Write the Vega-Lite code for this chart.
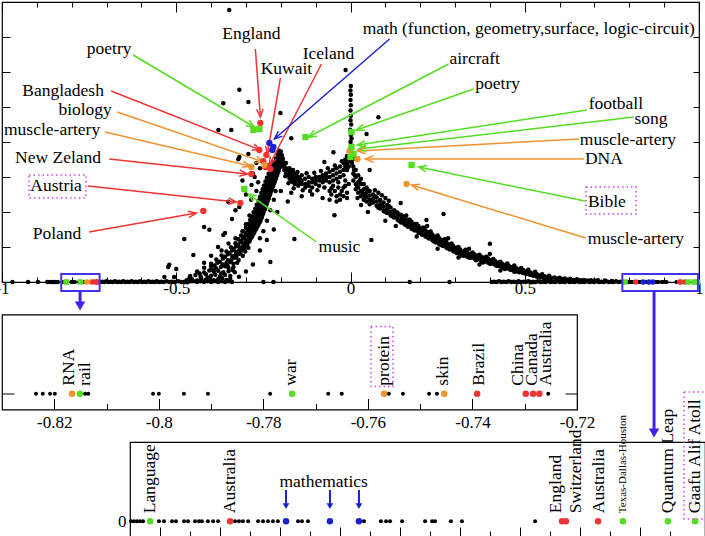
{
  "$schema": "https://vega.github.io/schema/vega-lite/v6.json",
  "padding": {"left": -6, "top": 0, "right": 0, "bottom": 0},
  "bounds": "flush",
  "spacing": 32.5,
  "config": {
    "view": {"stroke": "black", "strokeWidth": 1.2},
    "axis": {"labelFont": "Liberation Serif", "labelFontSize": 17, "labelColor": "black", "tickColor": "black", "tickWidth": 1, "domain": false, "grid": false, "title": null, "labelOverlap": false, "labelFlush": false},
    "text": {"font": "Liberation Serif", "fontSize": 17.5, "color": "black"}
  },
  "datasets": {
    "main": [
      {"x":-0.47,"y":0.05},{"x":-0.455,"y":0.08},{"x":-0.44,"y":0.04},{"x":-0.428,"y":0.09},{"x":-0.416,"y":0.06},{"x":-0.404,"y":0.1},{"x":-0.392,"y":0.05},{"x":-0.38,"y":0.08},{"x":-0.368,"y":0.11},{"x":-0.356,"y":0.06},{"x":-0.345,"y":0.09},
      {"x":-0.46,"y":0.17},{"x":-0.445,"y":0.2},{"x":-0.43,"y":0.15},{"x":-0.415,"y":0.22},{"x":-0.4,"y":0.18},{"x":-0.388,"y":0.21},{"x":-0.375,"y":0.16},{"x":-0.36,"y":0.2},{"x":-0.345,"y":0.17},
      {"x":-0.44,"y":0.3},{"x":-0.42,"y":0.27},{"x":-0.405,"y":0.33},{"x":-0.392,"y":0.29},{"x":-0.38,"y":0.32},{"x":-0.365,"y":0.28},{"x":-0.35,"y":0.31},{"x":-0.338,"y":0.34},
      {"x":-0.42,"y":0.41},{"x":-0.4,"y":0.44},{"x":-0.386,"y":0.39},{"x":-0.372,"y":0.43},{"x":-0.36,"y":0.45},{"x":-0.35,"y":0.4},{"x":-0.336,"y":0.42},
      {"x":-0.4,"y":0.52},{"x":-0.382,"y":0.55},{"x":-0.367,"y":0.5},{"x":-0.356,"y":0.54},{"x":-0.346,"y":0.57},{"x":-0.336,"y":0.52},{"x":-0.325,"y":0.55},
      {"x":-0.385,"y":0.64},{"x":-0.366,"y":0.67},{"x":-0.352,"y":0.62},{"x":-0.341,"y":0.66},{"x":-0.331,"y":0.69},{"x":-0.321,"y":0.63},
      {"x":-0.37,"y":0.76},{"x":-0.352,"y":0.79},{"x":-0.339,"y":0.74},{"x":-0.329,"y":0.78},{"x":-0.319,"y":0.81},{"x":-0.309,"y":0.75},
      {"x":-0.356,"y":0.87},{"x":-0.34,"y":0.9},{"x":-0.329,"y":0.86},{"x":-0.32,"y":0.89},{"x":-0.312,"y":0.92},{"x":-0.302,"y":0.87},
      {"x":-0.343,"y":0.99},{"x":-0.328,"y":1.02},{"x":-0.318,"y":0.97},{"x":-0.31,"y":1.01},{"x":-0.302,"y":1.04},{"x":-0.293,"y":0.98},
      {"x":-0.33,"y":1.11},{"x":-0.316,"y":1.14},{"x":-0.307,"y":1.09},{"x":-0.299,"y":1.13},{"x":-0.29,"y":1.16},
      {"x":-0.322,"y":1.22},{"x":-0.308,"y":1.25},{"x":-0.3,"y":1.2},{"x":-0.292,"y":1.24},{"x":-0.284,"y":1.27},
      {"x":-0.314,"y":1.33},{"x":-0.3,"y":1.36},{"x":-0.293,"y":1.31},{"x":-0.286,"y":1.35},{"x":-0.278,"y":1.38},
      {"x":-0.307,"y":1.44},{"x":-0.294,"y":1.47},{"x":-0.287,"y":1.42},{"x":-0.28,"y":1.46},{"x":-0.272,"y":1.49},
      {"x":-0.3,"y":1.55},{"x":-0.288,"y":1.58},{"x":-0.281,"y":1.53},{"x":-0.274,"y":1.57},{"x":-0.266,"y":1.6},
      {"x":-0.294,"y":1.66},{"x":-0.283,"y":1.69},{"x":-0.276,"y":1.64},{"x":-0.269,"y":1.68},{"x":-0.261,"y":1.71},
      {"x":-0.288,"y":1.77},{"x":-0.278,"y":1.8},{"x":-0.271,"y":1.75},{"x":-0.264,"y":1.79},{"x":-0.256,"y":1.82},
      {"x":-0.283,"y":1.88},{"x":-0.273,"y":1.91},{"x":-0.266,"y":1.86},{"x":-0.26,"y":1.9},{"x":-0.252,"y":1.93},
      {"x":-0.278,"y":1.99},{"x":-0.268,"y":2.02},{"x":-0.262,"y":1.97},{"x":-0.256,"y":2.01},{"x":-0.248,"y":2.04},
      {"x":-0.273,"y":2.1},{"x":-0.264,"y":2.13},{"x":-0.258,"y":2.08},{"x":-0.252,"y":2.12},{"x":-0.244,"y":2.15},
      {"x":-0.269,"y":2.21},{"x":-0.26,"y":2.24},{"x":-0.254,"y":2.19},{"x":-0.248,"y":2.23},{"x":-0.24,"y":2.26},
      {"x":-0.264,"y":2.32},{"x":-0.256,"y":2.35},{"x":-0.25,"y":2.3},{"x":-0.244,"y":2.34},{"x":-0.236,"y":2.37},
      {"x":-0.26,"y":2.43},{"x":-0.252,"y":2.46},{"x":-0.246,"y":2.41},{"x":-0.24,"y":2.45},{"x":-0.232,"y":2.48},
      {"x":-0.256,"y":2.54},{"x":-0.248,"y":2.57},{"x":-0.242,"y":2.52},{"x":-0.236,"y":2.56},{"x":-0.228,"y":2.59},
      {"x":-0.252,"y":2.65},{"x":-0.244,"y":2.68},{"x":-0.238,"y":2.63},{"x":-0.232,"y":2.67},{"x":-0.224,"y":2.7},
      {"x":-0.248,"y":2.76},{"x":-0.24,"y":2.79},{"x":-0.234,"y":2.74},{"x":-0.228,"y":2.78},{"x":-0.22,"y":2.81},
      {"x":-0.244,"y":2.87},{"x":-0.236,"y":2.9},{"x":-0.23,"y":2.85},{"x":-0.224,"y":2.89},{"x":-0.216,"y":2.92},
      {"x":-0.24,"y":2.98},{"x":-0.232,"y":3.01},{"x":-0.226,"y":2.96},{"x":-0.22,"y":3.0},{"x":-0.212,"y":3.03},
      {"x":-0.235,"y":3.09},{"x":-0.227,"y":3.12},{"x":-0.222,"y":3.07},{"x":-0.216,"y":3.11},{"x":-0.208,"y":3.14},
      {"x":-0.23,"y":3.2},{"x":-0.223,"y":3.23},{"x":-0.218,"y":3.18},{"x":-0.212,"y":3.22},{"x":-0.205,"y":3.25},
      {"x":-0.225,"y":3.31},{"x":-0.218,"y":3.34},{"x":-0.213,"y":3.29},{"x":-0.207,"y":3.33},{"x":-0.2,"y":3.36},
      {"x":-0.22,"y":3.42},{"x":-0.213,"y":3.45},{"x":-0.208,"y":3.4},{"x":-0.202,"y":3.44},{"x":-0.196,"y":3.47},
      {"x":-0.214,"y":3.53},{"x":-0.207,"y":3.56},{"x":-0.202,"y":3.51},{"x":-0.197,"y":3.55},
      {"x":-0.209,"y":3.64},{"x":-0.202,"y":3.67},{"x":-0.197,"y":3.62},{"x":-0.2,"y":3.73},{"x":-0.205,"y":3.75},
      {"x":-0.462,"y":0.12},{"x":-0.433,"y":0.24},{"x":-0.41,"y":0.13},{"x":-0.397,"y":0.36},{"x":-0.371,"y":0.24},{"x":-0.353,"y":0.47},{"x":-0.332,"y":0.28},{"x":-0.39,"y":0.47},{"x":-0.375,"y":0.58},{"x":-0.343,"y":0.6},{"x":-0.327,"y":0.74},{"x":-0.36,"y":0.72},{"x":-0.347,"y":0.83},{"x":-0.316,"y":0.85},{"x":-0.335,"y":0.95},{"x":-0.304,"y":0.95},{"x":-0.322,"y":1.06},{"x":-0.296,"y":1.08},{"x":-0.313,"y":1.18},{"x":-0.288,"y":1.21},{"x":-0.305,"y":1.29},{"x":-0.282,"y":1.31},{"x":-0.297,"y":1.4},{"x":-0.276,"y":1.42},{"x":-0.29,"y":1.51},{"x":-0.27,"y":1.53},{"x":-0.284,"y":1.62},{"x":-0.264,"y":1.64},{"x":-0.279,"y":1.73},{"x":-0.258,"y":1.75},{"x":-0.274,"y":1.84},{"x":-0.254,"y":1.86},{"x":-0.269,"y":1.95},{"x":-0.25,"y":1.97},{"x":-0.265,"y":2.06},{"x":-0.246,"y":2.08},{"x":-0.26,"y":2.17},{"x":-0.242,"y":2.19},{"x":-0.257,"y":2.28},{"x":-0.238,"y":2.3},{"x":-0.253,"y":2.39},{"x":-0.234,"y":2.41},{"x":-0.249,"y":2.5},{"x":-0.23,"y":2.52},{"x":-0.245,"y":2.61},{"x":-0.226,"y":2.63},{"x":-0.241,"y":2.72},{"x":-0.222,"y":2.74},{"x":-0.237,"y":2.83},{"x":-0.218,"y":2.85},{"x":-0.233,"y":2.94},{"x":-0.214,"y":2.96},{"x":-0.229,"y":3.05},{"x":-0.21,"y":3.07},{"x":-0.224,"y":3.16},{"x":-0.206,"y":3.18},{"x":-0.219,"y":3.27},{"x":-0.203,"y":3.29},{"x":-0.215,"y":3.38},{"x":-0.199,"y":3.4},{"x":-0.21,"y":3.49},{"x":-0.194,"y":3.52},
      {"x":-0.29,"y":1.9},{"x":-0.3,"y":1.65},{"x":-0.31,"y":1.45},{"x":-0.33,"y":1.25},{"x":-0.35,"y":1.1},{"x":-0.37,"y":0.9},{"x":-0.4,"y":0.75},{"x":-0.42,"y":0.55},{"x":-0.24,"y":1.75},{"x":-0.23,"y":2.05},{"x":-0.22,"y":2.35},{"x":-0.25,"y":1.45},{"x":-0.26,"y":1.25},{"x":-0.27,"y":2.6},{"x":-0.265,"y":2.85},{"x":-0.275,"y":3.0},{"x":-0.285,"y":2.35},{"x":-0.215,"y":2.6},
      {"x":-0.38,"y":1.0},{"x":-0.36,"y":1.4},{"x":-0.34,"y":1.8},{"x":-0.33,"y":2.05},{"x":-0.3,"y":2.5},{"x":-0.31,"y":2.9},{"x":-0.28,"y":3.1},{"x":-0.26,"y":3.25},{"x":-0.2,"y":2.6},{"x":-0.18,"y":2.3},{"x":-0.21,"y":2.0},{"x":-0.22,"y":1.5},{"x":-0.24,"y":1.2},{"x":-0.26,"y":0.9},{"x":-0.28,"y":0.5},{"x":-0.3,"y":0.3},{"x":-0.32,"y":0.15},
      {"x":-0.195,"y":3.45},{"x":-0.195,"y":3.3},{"x":-0.19,"y":3.35},{"x":-0.19,"y":3.2},{"x":-0.185,"y":3.25},{"x":-0.185,"y":3.1},{"x":-0.185,"y":3.4},{"x":-0.18,"y":3.2},{"x":-0.18,"y":3.05},{"x":-0.175,"y":3.1},{"x":-0.175,"y":3.25},{"x":-0.175,"y":2.95},{"x":-0.17,"y":3.05},{"x":-0.17,"y":3.15},{"x":-0.17,"y":2.9},{"x":-0.165,"y":3.0},{"x":-0.165,"y":2.85},{"x":-0.165,"y":3.2},{"x":-0.16,"y":2.95},{"x":-0.16,"y":3.1},{"x":-0.16,"y":2.8},{"x":-0.155,"y":2.9},{"x":-0.155,"y":3.05},{"x":-0.15,"y":2.85},{"x":-0.15,"y":3.0},{"x":-0.15,"y":2.75},{"x":-0.145,"y":2.85},{"x":-0.145,"y":2.95},{"x":-0.14,"y":2.8},{"x":-0.14,"y":2.9},{"x":-0.14,"y":3.05},{"x":-0.13,"y":2.8},{"x":-0.13,"y":2.95},{"x":-0.13,"y":2.7},{"x":-0.12,"y":2.85},{"x":-0.12,"y":2.75},{"x":-0.12,"y":3.0},{"x":-0.11,"y":2.85},{"x":-0.11,"y":2.95},{"x":-0.11,"y":2.7},{"x":-0.1,"y":2.9},{"x":-0.1,"y":2.8},{"x":-0.1,"y":3.0},{"x":-0.09,"y":2.9},{"x":-0.09,"y":3.0},{"x":-0.09,"y":2.75},{"x":-0.08,"y":2.95},{"x":-0.08,"y":3.05},{"x":-0.08,"y":2.85},{"x":-0.07,"y":3.0},{"x":-0.07,"y":3.1},{"x":-0.07,"y":2.9},{"x":-0.06,"y":3.0},{"x":-0.06,"y":3.15},{"x":-0.06,"y":2.85},{"x":-0.05,"y":3.05},{"x":-0.05,"y":3.2},{"x":-0.05,"y":2.9},{"x":-0.04,"y":3.1},{"x":-0.04,"y":3.25},{"x":-0.04,"y":2.95},{"x":-0.03,"y":3.15},{"x":-0.03,"y":3.3},{"x":-0.03,"y":3.0},{"x":-0.02,"y":3.2},{"x":-0.02,"y":3.4},{"x":-0.02,"y":3.05},{"x":-0.015,"y":3.3},{"x":-0.015,"y":3.5},{"x":-0.01,"y":3.4},{"x":-0.01,"y":3.6},{"x":-0.01,"y":3.2},{"x":-0.005,"y":3.5},{"x":-0.005,"y":3.3},
      {"x":-0.187,"y":3.02},{"x":-0.178,"y":2.82},{"x":-0.163,"y":2.68},{"x":-0.152,"y":3.14},{"x":-0.137,"y":2.62},{"x":-0.126,"y":3.11},{"x":-0.116,"y":2.6},{"x":-0.104,"y":3.12},{"x":-0.095,"y":2.62},{"x":-0.085,"y":3.17},{"x":-0.075,"y":2.7},{"x":-0.065,"y":3.25},{"x":-0.055,"y":2.68},{"x":-0.045,"y":3.33},{"x":-0.035,"y":2.85},{"x":-0.025,"y":3.45},
      {"x":-0.17,"y":2.55},{"x":-0.14,"y":2.45},{"x":-0.11,"y":2.5},{"x":-0.08,"y":2.4},{"x":-0.06,"y":2.6},{"x":-0.03,"y":2.5},{"x":-0.02,"y":2.7},{"x":-0.04,"y":2.3},{"x":-0.015,"y":2.9},{"x":-0.01,"y":2.4},{"x":-0.05,"y":2.75},{"x":-0.045,"y":2.6},{"x":-0.04,"y":2.45},{"x":-0.035,"y":2.7},{"x":-0.03,"y":2.35},{"x":-0.025,"y":2.6},{"x":-0.02,"y":2.45},{"x":-0.015,"y":2.75},{"x":-0.01,"y":2.55},{"x":-0.005,"y":2.8},{"x":-0.055,"y":2.5},{"x":-0.06,"y":2.35},
      {"x":0.001,"y":3.6},{"x":0.003,"y":3.7},{"x":-0.001,"y":3.8},{"x":0.002,"y":3.9},{"x":0.0,"y":4.0},{"x":0.003,"y":4.1},{"x":0.001,"y":4.2},{"x":-0.001,"y":4.35},{"x":0.002,"y":4.5},{"x":0.0,"y":4.62},{"x":0.001,"y":4.75},{"x":0.0,"y":4.9},{"x":0.001,"y":5.05},{"x":0.0,"y":5.2},{"x":0.001,"y":5.35},{"x":0.0,"y":5.47},{"x":0.001,"y":5.6},{"x":0.004,"y":3.4},{"x":0.006,"y":3.5},{"x":-0.004,"y":3.45},{"x":0.008,"y":3.6},{"x":-0.006,"y":3.3},{"x":0.01,"y":3.2},
      {"x":0.008,"y":3.3},{"x":0.008,"y":3.1},{"x":0.008,"y":2.9},{"x":0.015,"y":3.2},{"x":0.015,"y":3.0},{"x":0.015,"y":2.8},{"x":0.015,"y":2.65},{"x":0.022,"y":3.05},{"x":0.022,"y":2.85},{"x":0.022,"y":2.7},{"x":0.022,"y":2.55},{"x":0.03,"y":2.95},{"x":0.03,"y":2.8},{"x":0.03,"y":2.6},{"x":0.03,"y":2.45},{"x":0.038,"y":2.8},{"x":0.038,"y":2.65},{"x":0.038,"y":2.5},{"x":0.038,"y":2.35},{"x":0.046,"y":2.7},{"x":0.046,"y":2.55},{"x":0.046,"y":2.42},{"x":0.046,"y":2.3},{"x":0.055,"y":2.6},{"x":0.055,"y":2.47},{"x":0.055,"y":2.35},{"x":0.055,"y":2.22},
      {"x":0.065,"y":2.5},{"x":0.065,"y":2.38},{"x":0.065,"y":2.27},{"x":0.075,"y":2.42},{"x":0.075,"y":2.3},{"x":0.075,"y":2.18},{"x":0.085,"y":2.34},{"x":0.085,"y":2.22},{"x":0.085,"y":2.1},{"x":0.095,"y":2.27},{"x":0.095,"y":2.15},{"x":0.095,"y":2.03},{"x":0.105,"y":2.2},{"x":0.105,"y":2.08},{"x":0.105,"y":1.97},{"x":0.115,"y":2.13},{"x":0.115,"y":2.01},{"x":0.115,"y":1.9},{"x":0.125,"y":2.05},{"x":0.125,"y":1.95},{"x":0.125,"y":1.84},{"x":0.135,"y":1.98},{"x":0.135,"y":1.88},{"x":0.135,"y":1.78},{"x":0.145,"y":1.92},{"x":0.145,"y":1.8},{"x":0.145,"y":1.7},{"x":0.155,"y":1.85},{"x":0.155,"y":1.74},{"x":0.155,"y":1.65},{"x":0.165,"y":1.78},{"x":0.165,"y":1.68},{"x":0.165,"y":1.58},{"x":0.175,"y":1.72},{"x":0.175,"y":1.62},{"x":0.175,"y":1.52},{"x":0.185,"y":1.66},{"x":0.185,"y":1.56},{"x":0.185,"y":1.47},{"x":0.195,"y":1.6},{"x":0.195,"y":1.5},{"x":0.195,"y":1.41},
      {"x":0.205,"y":1.54},{"x":0.205,"y":1.44},{"x":0.205,"y":1.35},{"x":0.215,"y":1.48},{"x":0.215,"y":1.38},{"x":0.215,"y":1.3},{"x":0.225,"y":1.42},{"x":0.225,"y":1.33},{"x":0.225,"y":1.24},{"x":0.235,"y":1.36},{"x":0.235,"y":1.27},{"x":0.235,"y":1.19},{"x":0.245,"y":1.3},{"x":0.245,"y":1.22},{"x":0.245,"y":1.13},{"x":0.255,"y":1.25},{"x":0.255,"y":1.16},{"x":0.255,"y":1.08},{"x":0.265,"y":1.19},{"x":0.265,"y":1.1},{"x":0.265,"y":1.03},{"x":0.275,"y":1.14},{"x":0.275,"y":1.05},{"x":0.275,"y":0.98},{"x":0.285,"y":1.08},{"x":0.285,"y":1.0},{"x":0.285,"y":0.93},{"x":0.295,"y":1.03},{"x":0.295,"y":0.95},{"x":0.295,"y":0.88},{"x":0.305,"y":0.98},{"x":0.305,"y":0.9},{"x":0.305,"y":0.83},{"x":0.315,"y":0.93},{"x":0.315,"y":0.86},{"x":0.315,"y":0.79},{"x":0.325,"y":0.88},{"x":0.325,"y":0.81},{"x":0.325,"y":0.75},{"x":0.335,"y":0.84},{"x":0.335,"y":0.78},{"x":0.335,"y":0.72},{"x":0.345,"y":0.81},{"x":0.345,"y":0.75},{"x":0.345,"y":0.69},{"x":0.355,"y":0.79},{"x":0.355,"y":0.73},{"x":0.355,"y":0.67},
      {"x":0.365,"y":0.76},{"x":0.365,"y":0.7},{"x":0.365,"y":0.64},{"x":0.375,"y":0.73},{"x":0.375,"y":0.67},{"x":0.375,"y":0.61},{"x":0.385,"y":0.7},{"x":0.385,"y":0.64},{"x":0.385,"y":0.58},{"x":0.395,"y":0.67},{"x":0.395,"y":0.61},{"x":0.395,"y":0.55},{"x":0.405,"y":0.63},{"x":0.405,"y":0.58},{"x":0.405,"y":0.52},{"x":0.415,"y":0.6},{"x":0.415,"y":0.54},{"x":0.415,"y":0.49},{"x":0.425,"y":0.56},{"x":0.425,"y":0.51},{"x":0.425,"y":0.46},{"x":0.435,"y":0.52},{"x":0.435,"y":0.48},{"x":0.435,"y":0.43},{"x":0.445,"y":0.49},{"x":0.445,"y":0.45},{"x":0.445,"y":0.4},{"x":0.455,"y":0.46},{"x":0.455,"y":0.42},{"x":0.455,"y":0.37},{"x":0.465,"y":0.43},{"x":0.465,"y":0.39},{"x":0.465,"y":0.34},{"x":0.475,"y":0.4},{"x":0.475,"y":0.36},{"x":0.475,"y":0.31},{"x":0.485,"y":0.37},{"x":0.485,"y":0.33},{"x":0.485,"y":0.28},{"x":0.495,"y":0.34},{"x":0.495,"y":0.3},{"x":0.495,"y":0.26},{"x":0.505,"y":0.31},{"x":0.505,"y":0.27},{"x":0.505,"y":0.23},{"x":0.515,"y":0.28},{"x":0.515,"y":0.24},{"x":0.515,"y":0.21},{"x":0.525,"y":0.25},{"x":0.525,"y":0.21},{"x":0.525,"y":0.18},{"x":0.535,"y":0.22},{"x":0.535,"y":0.18},{"x":0.535,"y":0.15},{"x":0.545,"y":0.19},{"x":0.545,"y":0.16},{"x":0.545,"y":0.13},{"x":0.555,"y":0.17},{"x":0.555,"y":0.14},{"x":0.555,"y":0.11},{"x":0.565,"y":0.15},{"x":0.565,"y":0.12},{"x":0.565,"y":0.1},{"x":0.575,"y":0.12},{"x":0.575,"y":0.1},{"x":0.59,"y":0.1},{"x":0.59,"y":0.08},{"x":0.605,"y":0.09},{"x":0.605,"y":0.07},{"x":0.62,"y":0.07},{"x":0.62,"y":0.06},{"x":0.64,"y":0.06},{"x":0.66,"y":0.05},{"x":0.68,"y":0.04},{"x":0.7,"y":0.04},
      {"x":0.012,"y":3.05},{"x":0.018,"y":2.75},{"x":0.026,"y":2.9},{"x":0.034,"y":2.55},{"x":0.042,"y":2.45},{"x":0.05,"y":2.62},{"x":0.06,"y":2.3},{"x":0.07,"y":2.45},{"x":0.08,"y":2.12},{"x":0.09,"y":2.2},{"x":0.1,"y":2.0},{"x":0.11,"y":2.17},{"x":0.12,"y":1.88},{"x":0.13,"y":2.01},{"x":0.14,"y":1.74},{"x":0.15,"y":1.88},{"x":0.16,"y":1.62},{"x":0.17,"y":1.78},{"x":0.18,"y":1.5},{"x":0.19,"y":1.66},{"x":0.2,"y":1.4},{"x":0.21,"y":1.56},{"x":0.22,"y":1.28},{"x":0.23,"y":1.44},{"x":0.24,"y":1.16},{"x":0.25,"y":1.33},{"x":0.26,"y":1.06},{"x":0.27,"y":1.22},{"x":0.28,"y":0.96},{"x":0.29,"y":1.1},{"x":0.3,"y":0.87},{"x":0.31,"y":1.0},{"x":0.32,"y":0.76},{"x":0.33,"y":0.92},{"x":0.34,"y":0.7},{"x":0.35,"y":0.84},{"x":0.36,"y":0.62},{"x":0.37,"y":0.78},{"x":0.38,"y":0.56},{"x":0.39,"y":0.72},{"x":0.4,"y":0.52},{"x":0.41,"y":0.66},{"x":0.42,"y":0.46},{"x":0.43,"y":0.58},{"x":0.44,"y":0.4},{"x":0.45,"y":0.53},{"x":0.46,"y":0.34},{"x":0.47,"y":0.47},{"x":0.48,"y":0.3},{"x":0.49,"y":0.4},{"x":0.5,"y":0.25},{"x":0.51,"y":0.35},{"x":0.52,"y":0.2},{"x":0.53,"y":0.29},{"x":0.54,"y":0.16},{"x":0.55,"y":0.22},{"x":0.56,"y":0.14},{"x":0.57,"y":0.18},{"x":0.585,"y":0.13},{"x":0.6,"y":0.12},{"x":0.615,"y":0.1},{"x":0.63,"y":0.09},{"x":0.65,"y":0.08},{"x":0.67,"y":0.06},{"x":0.69,"y":0.05},{"x":0.71,"y":0.05},{"x":0.73,"y":0.04},{"x":0.75,"y":0.03},
      {"x":0.1,"y":1.75},{"x":0.13,"y":1.6},{"x":0.16,"y":1.9},{"x":0.19,"y":1.3},{"x":0.22,"y":1.6},{"x":0.25,"y":0.95},{"x":0.28,"y":1.25},{"x":0.31,"y":0.7},{"x":0.34,"y":0.95},{"x":0.37,"y":0.5},{"x":0.4,"y":0.8},{"x":0.43,"y":0.33},{"x":0.05,"y":2.0},{"x":0.03,"y":2.2},{"x":0.02,"y":2.4},
      {"x":0.07,"y":2.62},{"x":0.08,"y":2.55},{"x":0.09,"y":2.48},{"x":0.1,"y":2.4},{"x":0.11,"y":2.32},
      {"x":-0.348,"y":7.77},{"x":-0.014,"y":6.06},{"x":-0.319,"y":5.49},{"x":-0.365,"y":5.11},{"x":-0.293,"y":5.14},{"x":-0.201,"y":4.83},{"x":-0.379,"y":4.34},{"x":-0.342,"y":4.34},{"x":-0.17,"y":4.11},{"x":-0.322,"y":3.51},{"x":-0.293,"y":3.66},{"x":-0.319,"y":3.57},{"x":-0.27,"y":3.4},{"x":-0.284,"y":2.77},{"x":-0.319,"y":2.14},{"x":-0.351,"y":2.29},{"x":-0.42,"y":1.57},{"x":-0.405,"y":1.49},{"x":-0.365,"y":1.34},{"x":-0.477,"y":1.23},{"x":-0.451,"y":0.77},{"x":-0.523,"y":0.43},{"x":-0.5,"y":0.37},{"x":-0.161,"y":1.23},{"x":-0.046,"y":1.91},{"x":-0.049,"y":3.71},{"x":-0.075,"y":3.43},{"x":0.08,"y":4.71},{"x":0.046,"y":4.23},{"x":0.055,"y":3.2},{"x":0.144,"y":2.26},{"x":0.218,"y":1.77},{"x":0.267,"y":1.94},{"x":0.06,"y":1.2},{"x":0.4,"y":1.09},{"x":0.443,"y":0.37},{"x":0.47,"y":0.29},{"x":-0.52,"y":0.49},{"x":-0.534,"y":0.14},{"x":-0.506,"y":0.14},{"x":-0.23,"y":0.57},{"x":-0.25,"y":0},{"x":-0.221,"y":0},{"x":0.17,"y":0},{"x":0.284,"y":0},
      {"x":-0.97,"y":0},{"x":-0.925,"y":0},{"x":-0.897,"y":0},{"x":-0.87,"y":0},{"x":-0.862,"y":0},{"x":-0.855,"y":0},{"x":-0.848,"y":0},{"x":-0.84,"y":0},
      {"x":-0.718,"y":0},{"x":-0.712,"y":0.01},{"x":-0.706,"y":0},{"x":-0.7,"y":0.02},{"x":-0.694,"y":0},{"x":-0.688,"y":0.01},{"x":-0.682,"y":0},{"x":-0.676,"y":0.02},{"x":-0.67,"y":0},{"x":-0.664,"y":0.01},{"x":-0.658,"y":0},{"x":-0.652,"y":0.02},{"x":-0.646,"y":0},{"x":-0.64,"y":0.01},{"x":-0.634,"y":0},{"x":-0.628,"y":0.02},{"x":-0.622,"y":0},{"x":-0.616,"y":0.01},{"x":-0.61,"y":0},{"x":-0.604,"y":0.02},{"x":-0.598,"y":0},{"x":-0.592,"y":0.01},{"x":-0.586,"y":0},{"x":-0.58,"y":0.02},{"x":-0.574,"y":0},{"x":-0.568,"y":0.01},{"x":-0.562,"y":0},{"x":-0.556,"y":0.02},{"x":-0.55,"y":0},{"x":-0.543,"y":0.01},{"x":-0.536,"y":0},{"x":-0.528,"y":0.02},{"x":-0.52,"y":0},{"x":-0.512,"y":0.01},{"x":-0.503,"y":0},{"x":-0.494,"y":0.02},{"x":-0.485,"y":0},{"x":-0.476,"y":0.01},{"x":-0.467,"y":0},{"x":-0.458,"y":0.02},
      {"x":-0.45,"y":0.02},{"x":-0.44,"y":0},{"x":-0.43,"y":0.02},{"x":-0.42,"y":0},{"x":-0.41,"y":0.02},{"x":-0.4,"y":0},{"x":-0.39,"y":0.02},{"x":-0.38,"y":0},{"x":-0.37,"y":0.02},{"x":-0.36,"y":0},{"x":-0.35,"y":0.02},{"x":-0.34,"y":0},
      {"x":0.405,"y":0},{"x":0.412,"y":0.01},{"x":0.419,"y":0},{"x":0.426,"y":0.02},{"x":0.433,"y":0},{"x":0.44,"y":0.01},{"x":0.447,"y":0},{"x":0.454,"y":0.02},{"x":0.461,"y":0},{"x":0.468,"y":0.01},{"x":0.475,"y":0},{"x":0.482,"y":0.02},{"x":0.489,"y":0},{"x":0.496,"y":0.01},{"x":0.503,"y":0},{"x":0.51,"y":0.02},{"x":0.517,"y":0},{"x":0.524,"y":0.01},{"x":0.531,"y":0},{"x":0.538,"y":0.02},{"x":0.545,"y":0},{"x":0.552,"y":0.01},{"x":0.559,"y":0},{"x":0.566,"y":0.02},{"x":0.573,"y":0},{"x":0.58,"y":0.01},{"x":0.587,"y":0},{"x":0.594,"y":0.02},{"x":0.601,"y":0},{"x":0.608,"y":0.01},{"x":0.615,"y":0},{"x":0.622,"y":0.02},{"x":0.629,"y":0},{"x":0.636,"y":0.01},{"x":0.643,"y":0},{"x":0.65,"y":0.02},{"x":0.657,"y":0},{"x":0.664,"y":0.01},{"x":0.671,"y":0},{"x":0.678,"y":0.02},{"x":0.685,"y":0},{"x":0.692,"y":0.01},{"x":0.699,"y":0},{"x":0.706,"y":0.02},{"x":0.713,"y":0},{"x":0.72,"y":0.01},{"x":0.727,"y":0},{"x":0.734,"y":0.02},{"x":0.741,"y":0},{"x":0.748,"y":0.01},{"x":0.755,"y":0},{"x":0.762,"y":0.02},{"x":0.769,"y":0},{"x":0.776,"y":0.01}
    ],
    "zoom": [
      {"x":-0.8235,"cat":"black"},{"x":-0.8222,"cat":"black"},{"x":-0.8208,"cat":"black"},{"x":-0.8199,"cat":"black"},{"x":-0.8166,"cat":"orange"},{"x":-0.8151,"cat":"green"},{"x":-0.8141,"cat":"black"},{"x":-0.8135,"cat":"black"},{"x":-0.8011,"cat":"black"},{"x":-0.8,"cat":"black"},{"x":-0.7952,"cat":"black"},{"x":-0.7906,"cat":"black"},{"x":-0.7787,"cat":"black"},{"x":-0.7745,"cat":"green"},{"x":-0.7676,"cat":"black"},{"x":-0.765,"cat":"black"},{"x":-0.7569,"cat":"orange"},{"x":-0.756,"cat":"black"},{"x":-0.7533,"cat":"black"},{"x":-0.7483,"cat":"black"},{"x":-0.7468,"cat":"black"},{"x":-0.7454,"cat":"orange"},{"x":-0.7391,"cat":"red"},{"x":-0.7298,"cat":"red"},{"x":-0.7284,"cat":"red"},{"x":-0.7272,"cat":"red"},{"x":-0.7255,"cat":"black"},
      {"x":0.7804,"cat":"black"},{"x":0.7815,"cat":"black"},{"x":0.7827,"cat":"black"},{"x":0.7838,"cat":"black"},{"x":0.785,"cat":"black"},{"x":0.7911,"cat":"black"},{"x":0.793,"cat":"black"},{"x":0.7961,"cat":"black"},{"x":0.7976,"cat":"black"},{"x":0.8007,"cat":"black"},{"x":0.8022,"cat":"black"},{"x":0.8049,"cat":"black"},{"x":0.8064,"cat":"black"},{"x":0.8075,"cat":"black"},{"x":0.8098,"cat":"black"},{"x":0.8118,"cat":"black"},{"x":0.8137,"cat":"black"},{"x":0.8202,"cat":"black"},{"x":0.8217,"cat":"black"},{"x":0.8232,"cat":"black"},{"x":0.8252,"cat":"black"},{"x":0.829,"cat":"black"},{"x":0.8309,"cat":"black"},{"x":0.8328,"cat":"black"},{"x":0.8347,"cat":"black"},{"x":0.8366,"cat":"black"},{"x":0.8443,"cat":"black"},{"x":0.8458,"cat":"black"},{"x":0.8481,"cat":"black"},{"x":0.8695,"cat":"black"},{"x":0.876,"cat":"black"},{"x":0.878,"cat":"black"},{"x":0.8795,"cat":"black"},{"x":0.8841,"cat":"black"},{"x":0.8929,"cat":"black"},{"x":0.8956,"cat":"black"},{"x":0.8967,"cat":"black"},{"x":0.9028,"cat":"black"},{"x":0.907,"cat":"black"},{"x":0.935,"cat":"black"},
      {"x":0.7877,"cat":"green"},{"x":0.8183,"cat":"red"},{"x":0.8397,"cat":"blue"},{"x":0.8565,"cat":"blue"},{"x":0.8676,"cat":"blue"},{"x":0.9453,"cat":"red"},{"x":0.9468,"cat":"red"},{"x":0.9591,"cat":"red"},{"x":0.9686,"cat":"green"},{"x":0.9858,"cat":"green"},{"x":0.9962,"cat":"green"}
    ],
    "zlab": [
      {"label":"RNA","lx":-0.8172},{"label":"rail","lx":-0.8141},{"label":"war","lx":-0.7747},{"label":"protein","lx":-0.7569},{"label":"skin","lx":-0.7456},{"label":"Brazil","lx":-0.7387},{"label":"China","lx":-0.7313},{"label":"Canada","lx":-0.7286},{"label":"Australia","lx":-0.7259},
      {"label":"Language","lx":0.7875},{"label":"Australia","lx":0.8182},{"label":"England","lx":0.9431},{"label":"Switzerland","lx":0.9508},{"label":"Australia","lx":0.9593},{"label":"Texas-Dallas-Houston","lx":0.9686},{"label":"Quantum Leap","lx":0.9857},{"label":"Gaafu Alif Atoll","lx":0.996}
    ],
    "hl": [
      {"x":-0.2586,"y":4.543,"cat":"red"},{"x":-0.2615,"y":3.771,"cat":"red"},{"x":-0.2414,"y":3.629,"cat":"red"},{"x":-0.2356,"y":3.314,"cat":"red"},{"x":-0.2443,"y":3.286,"cat":"red"},{"x":-0.23,"y":3.229,"cat":"red"},{"x":-0.2845,"y":3.086,"cat":"red"},{"x":-0.3161,"y":2.257,"cat":"red"},{"x":-0.4224,"y":2.029,"cat":"red"},{"x":-0.25,"y":3.45,"cat":"red"},
      {"x":-0.2471,"y":3.343,"cat":"orange"},{"x":-0.2845,"y":3.286,"cat":"orange"},{"x":-0.0029,"y":3.743,"cat":"orange"},{"x":0.0201,"y":3.514,"cat":"orange"},{"x":0.1609,"y":2.8,"cat":"orange"},
      {"x":-0.2213,"y":3.857,"cat":"blue"},{"x":-0.2328,"y":3.971,"cat":"blue"},{"x":-0.2241,"y":3.771,"cat":"blue"},
      {"x":-0.2787,"y":4.343,"cat":"green"},{"x":-0.2615,"y":4.371,"cat":"green"},{"x":-0.3046,"y":2.657,"cat":"green"},{"x":-0.1293,"y":4.143,"cat":"green"},{"x":0.0029,"y":4.286,"cat":"green"},{"x":0.0029,"y":3.857,"cat":"green"},{"x":0.0086,"y":3.657,"cat":"green"},{"x":0.0,"y":3.571,"cat":"green"},{"x":0.1753,"y":3.343,"cat":"green"}
    ],
    "ann": [
      {"label":"England","tx":-0.2845,"ty":7.086,"x1":-0.273,"y1":6.657,"x2":-0.2586,"y2":4.714,"cat":"red"},
      {"label":"poetry","tx":-0.6925,"ty":6.657,"x1":-0.6236,"y1":6.486,"x2":-0.2759,"y2":4.429,"cat":"green"},
      {"label":"Kuwait","tx":-0.1839,"ty":6.086,"x1":-0.2011,"y1":5.829,"x2":-0.2385,"y2":3.657,"cat":"red"},
      {"label":"Iceland","tx":-0.0632,"ty":6.514,"x1":-0.0833,"y1":6.229,"x2":-0.2328,"y2":3.343,"cat":"red"},
      {"label":"math (function, geometry,surface, logic-circuit)","tx":0.5115,"ty":7.229,"x1":0.1121,"y1":6.943,"x2":-0.2184,"y2":4.086,"cat":"blue"},
      {"label":"Bangladesh","tx":-0.8247,"ty":5.457,"x1":-0.6868,"y1":5.457,"x2":-0.2586,"y2":3.771,"cat":"red"},
      {"label":"biology","tx":-0.7615,"ty":4.914,"x1":-0.6695,"y1":4.857,"x2":-0.25,"y2":3.429,"cat":"orange"},
      {"label":"muscle-artery","tx":-0.8563,"ty":4.343,"x1":-0.704,"y1":4.286,"x2":-0.2874,"y2":3.314,"cat":"orange"},
      {"label":"New Zeland","tx":-0.8391,"ty":3.543,"x1":-0.6925,"y1":3.514,"x2":-0.296,"y2":3.086,"cat":"red"},
      {"label":"Austria","tx":-0.8448,"ty":2.743,"x1":-0.7529,"y1":2.743,"x2":-0.3276,"y2":2.286,"cat":"red"},
      {"label":"Poland","tx":-0.842,"ty":1.371,"x1":-0.75,"y1":1.429,"x2":-0.4425,"y2":1.971,"cat":"red"},
      {"label":"music","tx":-0.0316,"ty":1.0,"x1":-0.0977,"y1":1.143,"x2":-0.2931,"y2":2.514,"cat":"green"},
      {"label":"aircraft","tx":0.3563,"ty":6.371,"x1":0.2816,"y1":6.229,"x2":-0.1207,"y2":4.143,"cat":"green"},
      {"label":"poetry","tx":0.4224,"ty":5.657,"x1":0.3534,"y1":5.514,"x2":0.0172,"y2":4.343,"cat":"green"},
      {"label":"football","tx":0.7615,"ty":5.086,"x1":0.6782,"y1":4.914,"x2":0.0201,"y2":3.914,"cat":"green"},
      {"label":"song","tx":0.8621,"ty":4.657,"x1":0.8132,"y1":4.714,"x2":0.023,"y2":3.8,"cat":"green"},
      {"label":"muscle-artery","tx":0.796,"ty":4.057,"x1":0.6552,"y1":4.086,"x2":0.0201,"y2":3.743,"cat":"orange"},
      {"label":"DNA","tx":0.727,"ty":3.514,"x1":0.6695,"y1":3.514,"x2":0.0431,"y2":3.514,"cat":"orange"},
      {"label":"Bible","tx":0.7356,"ty":2.286,"x1":0.6724,"y1":2.314,"x2":0.1954,"y2":3.286,"cat":"green"},
      {"label":"muscle-artery","tx":0.819,"ty":1.229,"x1":0.6753,"y1":1.257,"x2":0.1753,"y2":2.771,"cat":"orange"}
    ],
    "dbox": [
      {"panel":"top","x":-0.9225,"x2":-0.759,"y":3.057,"y2":2.4},
      {"panel":"top","x":0.6758,"x2":0.8192,"y":2.714,"y2":1.943},
      {"panel":"mid","x":-0.7594,"x2":-0.7552,"y":0.455,"y2":4.25},
      {"panel":"bot","x":0.992,"x2":1.01,"y":0.14,"y2":8.16}
    ],
    "zbox": [
      {"x":-0.83,"x2":-0.72,"y":-0.26,"y2":0.23},
      {"x":0.78,"x2":0.997,"y":-0.26,"y2":0.23}
    ],
    "bigarr": [
      {"x":-0.776,"y":-0.26,"y2":-0.686},
      {"x":0.871,"y":-0.26,"y2":-4.314}
    ],
    "marr": [
      {"x":0.8397,"y":1.97,"y2":0.95},
      {"x":0.8565,"y":1.97,"y2":0.95},
      {"x":0.8676,"y":1.97,"y2":0.95}
    ],
    "mtext": [{"label":"mathematics","x":0.8541,"y":2.48}]
  },
  "vconcat": [
    {
      "width": 697,
      "height": 280,
      "resolve": {"axis": {"x": "independent", "y": "independent"}},
      "layer": [
        {
          "data": {"name": "main"},
          "mark": {"type": "circle", "size": 20, "color": "black", "opacity": 1},
          "encoding": {
            "x": {"field": "x", "type": "quantitative", "scale": {"domain": [-1, 1], "nice": false, "zero": false},
              "axis": {"orient": "bottom", "values": [-1,-0.9,-0.8,-0.7,-0.6,-0.5,-0.4,-0.3,-0.2,-0.1,0,0.1,0.2,0.3,0.4,0.5,0.6,0.7,0.8,0.9,1],
                "labelExpr": "abs(datum.value*2-round(datum.value*2))<0.001 ? ''+datum.value : ''",
                "tickSize": {"condition": {"test": "abs(datum.value*2-round(datum.value*2))<0.001", "value": -10}, "value": -5},
                "labelPadding": 8, "labelFlush": false}},
            "y": {"field": "y", "type": "quantitative", "scale": {"domain": [0, 8], "nice": false, "zero": false},
              "axis": {"orient": "left", "values": [1,2,3,4,5,6,7], "labels": false, "tickSize": -8}}
          }
        },
        {
          "data": {"name": "zoom"},
          "transform": [{"filter": "datum.cat === 'black'"}],
          "mark": {"type": "circle", "size": 16, "color": "black", "opacity": 1},
          "encoding": {
            "x": {"field": "x", "type": "quantitative", "scale": {"domain": [-1, 1], "nice": false, "zero": false}, "axis": null},
            "y": {"datum": 0, "type": "quantitative", "scale": {"domain": [0, 8], "nice": false, "zero": false}, "axis": null}
          }
        },
        {
          "data": {"name": "zoom"},
          "transform": [{"filter": "datum.cat !== 'black'"}],
          "mark": {"type": "point", "filled": true, "size": 30, "opacity": 1},
          "encoding": {
            "x": {"field": "x", "type": "quantitative", "scale": {"domain": [-1, 1], "nice": false, "zero": false}, "axis": null},
            "y": {"datum": 0, "type": "quantitative", "scale": {"domain": [0, 8], "nice": false, "zero": false}, "axis": null},
            "color": {"field": "cat", "type": "nominal", "scale": {"domain": ["black","red","orange","green","blue"], "range": ["#000000","#ee3333","#f0922e","#55dd22","#1a22cc"]}, "legend": null},
            "shape": {"field": "cat", "type": "nominal", "scale": {"domain": ["black","red","orange","green","blue"], "range": ["circle","circle","circle","square","circle"]}, "legend": null}
          }
        },
        {
          "data": {"name": "zbox"},
          "mark": {"type": "rect", "filled": false, "color": "#4433ee", "strokeWidth": 2},
          "encoding": {
            "x": {"field": "x", "type": "quantitative", "scale": {"domain": [-1, 1], "nice": false, "zero": false}, "axis": null},
            "x2": {"field": "x2"},
            "y": {"field": "y", "type": "quantitative", "scale": {"domain": [0, 8], "nice": false, "zero": false}, "axis": null},
            "y2": {"field": "y2"}
          }
        },
        {
          "data": {"name": "dbox"},
          "transform": [{"filter": "datum.panel === 'top'"}],
          "mark": {"type": "rect", "filled": false, "color": "#cc44ee", "strokeWidth": 1.5, "strokeDash": [1.5, 3]},
          "encoding": {
            "x": {"field": "x", "type": "quantitative", "scale": {"domain": [-1, 1], "nice": false, "zero": false}, "axis": null},
            "x2": {"field": "x2"},
            "y": {"field": "y", "type": "quantitative", "scale": {"domain": [0, 8], "nice": false, "zero": false}, "axis": null},
            "y2": {"field": "y2"}
          }
        },
        {
          "data": {"name": "ann"},
          "mark": {"type": "rule", "strokeWidth": 1.5},
          "encoding": {
            "x": {"field": "x1", "type": "quantitative", "scale": {"domain": [-1, 1], "nice": false, "zero": false}, "axis": null},
            "x2": {"field": "x2"},
            "y": {"field": "y1", "type": "quantitative", "scale": {"domain": [0, 8], "nice": false, "zero": false}, "axis": null},
            "y2": {"field": "y2"},
            "color": {"field": "cat", "type": "nominal", "scale": {"domain": ["black","red","orange","green","blue"], "range": ["#000000","#ee3333","#f0922e","#55dd22","#1a22cc"]}, "legend": null}
          }
        },
        {
          "data": {"name": "ann"},
          "transform": [{"calculate": "atan2(-(datum.y2-datum.y1)*35, (datum.x2-datum.x1)*348.5)*180/PI", "as": "ang"}],
          "mark": {"type": "point", "shape": "M-2,-0.8L0,0L-2,0.8", "filled": false, "strokeWidth": 1.5, "size": 64, "opacity": 1},
          "encoding": {
            "x": {"field": "x2", "type": "quantitative", "scale": {"domain": [-1, 1], "nice": false, "zero": false}, "axis": null},
            "y": {"field": "y2", "type": "quantitative", "scale": {"domain": [0, 8], "nice": false, "zero": false}, "axis": null},
            "angle": {"field": "ang", "type": "quantitative", "scale": null},
            "color": {"field": "cat", "type": "nominal", "scale": {"domain": ["black","red","orange","green","blue"], "range": ["#000000","#ee3333","#f0922e","#55dd22","#1a22cc"]}, "legend": null}
          }
        },
        {
          "data": {"name": "hl"},
          "mark": {"type": "point", "filled": true, "size": 40, "opacity": 1},
          "encoding": {
            "x": {"field": "x", "type": "quantitative", "scale": {"domain": [-1, 1], "nice": false, "zero": false},
              "axis": {"orient": "top", "values": [-1,-0.9,-0.8,-0.7,-0.6,-0.5,-0.4,-0.3,-0.2,-0.1,0,0.1,0.2,0.3,0.4,0.5,0.6,0.7,0.8,0.9,1], "labels": false,
                "tickSize": {"condition": {"test": "abs(datum.value*2-round(datum.value*2))<0.001", "value": -10}, "value": -5}}},
            "y": {"field": "y", "type": "quantitative", "scale": {"domain": [0, 8], "nice": false, "zero": false},
              "axis": {"orient": "right", "values": [1,2,3,4,5,6,7], "labels": false, "tickSize": -6}},
            "color": {"field": "cat", "type": "nominal", "scale": {"domain": ["black","red","orange","green","blue"], "range": ["#000000","#ee3333","#f0922e","#55dd22","#1a22cc"]}, "legend": null},
            "shape": {"field": "cat", "type": "nominal", "scale": {"domain": ["black","red","orange","green","blue"], "range": ["circle","circle","circle","square","circle"]}, "legend": null}
          }
        },
        {
          "data": {"name": "ann"},
          "mark": {"type": "text", "align": "center", "baseline": "middle", "font": "Liberation Serif", "fontSize": 17.5, "color": "black"},
          "encoding": {
            "x": {"field": "tx", "type": "quantitative", "scale": {"domain": [-1, 1], "nice": false, "zero": false}, "axis": null},
            "y": {"field": "ty", "type": "quantitative", "scale": {"domain": [0, 8], "nice": false, "zero": false}, "axis": null},
            "text": {"field": "label"}
          }
        },
        {
          "data": {"name": "bigarr"},
          "mark": {"type": "rule", "strokeWidth": 3, "color": "#4422ee"},
          "encoding": {
            "x": {"field": "x", "type": "quantitative", "scale": {"domain": [-1, 1], "nice": false, "zero": false}, "axis": null},
            "y": {"field": "y", "type": "quantitative", "scale": {"domain": [0, 8], "nice": false, "zero": false}, "axis": null},
            "y2": {"field": "y2"}
          }
        },
        {
          "data": {"name": "bigarr"},
          "mark": {"type": "point", "shape": "triangle-down", "filled": true, "size": 110, "color": "#4422ee", "opacity": 1},
          "encoding": {
            "x": {"field": "x", "type": "quantitative", "scale": {"domain": [-1, 1], "nice": false, "zero": false}, "axis": null},
            "y": {"field": "y2", "type": "quantitative", "scale": {"domain": [0, 8], "nice": false, "zero": false}, "axis": null}
          }
        }
      ]
    },
    {
      "width": 575,
      "height": 95,
      "resolve": {"axis": {"x": "independent", "y": "independent"}},
      "layer": [
        {
          "data": {"name": "zoom"},
          "transform": [{"filter": "datum.x < 0 && datum.cat === 'black'"}],
          "mark": {"type": "circle", "size": 16, "color": "black", "opacity": 1},
          "encoding": {
            "x": {"field": "x", "type": "quantitative", "scale": {"domain": [-0.83, -0.72], "nice": false, "zero": false},
              "axis": {"orient": "bottom", "values": [-0.82,-0.81,-0.8,-0.79,-0.78,-0.77,-0.76,-0.75,-0.74,-0.73,-0.72],
                "labelExpr": "abs(datum.value*50-round(datum.value*50))<0.001 ? ''+datum.value : ''",
                "tickSize": {"condition": {"test": "abs(datum.value*50-round(datum.value*50))<0.001", "value": -11}, "value": -6},
                "labelPadding": 16, "labelFlush": false}},
            "y": {"datum": 0, "type": "quantitative", "scale": {"domain": [-1, 5], "nice": false, "zero": false},
              "axis": {"orient": "left", "values": [0], "labels": false, "tickSize": -12}}
          }
        },
        {
          "data": {"name": "zoom"},
          "transform": [{"filter": "datum.x < 0 && datum.cat !== 'black'"}],
          "mark": {"type": "circle", "size": 42, "opacity": 1},
          "encoding": {
            "x": {"field": "x", "type": "quantitative", "scale": {"domain": [-0.83, -0.72], "nice": false, "zero": false}, "axis": null},
            "y": {"datum": 0, "type": "quantitative", "scale": {"domain": [-1, 5], "nice": false, "zero": false},
              "axis": {"orient": "right", "values": [0], "labels": false, "tickSize": -12}},
            "color": {"field": "cat", "type": "nominal", "scale": {"domain": ["black","red","orange","green","blue"], "range": ["#000000","#ee3333","#f0922e","#55dd22","#1a22cc"]}, "legend": null}
          }
        },
        {
          "data": {"name": "zlab"},
          "transform": [{"filter": "datum.lx < 0"}],
          "mark": {"type": "text", "angle": 270, "align": "left", "baseline": "middle", "dx": 8, "font": "Liberation Serif", "fontSize": 17.5, "color": "black"},
          "encoding": {
            "x": {"field": "lx", "type": "quantitative", "scale": {"domain": [-0.83, -0.72], "nice": false, "zero": false}, "axis": null},
            "y": {"datum": 0, "type": "quantitative", "scale": {"domain": [-1, 5], "nice": false, "zero": false}, "axis": null},
            "text": {"field": "label"}
          }
        },
        {
          "data": {"name": "dbox"},
          "transform": [{"filter": "datum.panel === 'mid'"}],
          "mark": {"type": "rect", "filled": false, "color": "#cc44ee", "strokeWidth": 1.5, "strokeDash": [1.5, 3]},
          "encoding": {
            "x": {"field": "x", "type": "quantitative", "scale": {"domain": [-0.83, -0.72], "nice": false, "zero": false}, "axis": null},
            "x2": {"field": "x2"},
            "y": {"field": "y", "type": "quantitative", "scale": {"domain": [-1, 5], "nice": false, "zero": false}, "axis": null},
            "y2": {"field": "y2"}
          }
        }
      ]
    },
    {
      "bounds": "flush",
      "spacing": 0,
      "hconcat": [
        {
          "width": 128,
          "height": 95,
          "view": {"stroke": null},
          "data": {"values": [{"a": 1}]},
          "mark": {"type": "point", "opacity": 0},
          "encoding": {}
        },
        {
          "width": 575,
          "height": 95,
          "resolve": {"axis": {"x": "independent", "y": "independent"}},
          "layer": [
            {
              "data": {"name": "zoom"},
              "transform": [{"filter": "datum.x > 0 && datum.cat === 'black'"}],
              "mark": {"type": "circle", "size": 16, "color": "black", "opacity": 1},
              "encoding": {
                "x": {"field": "x", "type": "quantitative", "scale": {"domain": [0.78, 1.0], "nice": false, "zero": false},
                  "axis": {"orient": "bottom", "values": [0.79148,0.80296,0.81443,0.82591,0.83739,0.84887,0.86035,0.87183,0.8833,0.89478,0.90626,0.91774,0.92922,0.9407,0.95217,0.96365,0.97513,0.98661],
                    "labels": false,
                    "tickSize": {"condition": {"test": "round((datum.value-0.78)/0.0114783)%2==1", "value": -10}, "value": -6}}},
                "y": {"datum": 0, "type": "quantitative", "scale": {"domain": [-1, 5], "nice": false, "zero": false},
                  "axis": {"orient": "left", "values": [0], "labelExpr": "'0'", "tickSize": -8, "labelPadding": 12}}
              }
            },
            {
              "data": {"name": "zoom"},
              "transform": [{"filter": "datum.x > 0 && datum.cat !== 'black'"}],
              "mark": {"type": "circle", "size": 42, "opacity": 1},
              "encoding": {
                "x": {"field": "x", "type": "quantitative", "scale": {"domain": [0.78, 1.0], "nice": false, "zero": false}, "axis": null},
                "y": {"datum": 0, "type": "quantitative", "scale": {"domain": [-1, 5], "nice": false, "zero": false}, "axis": null},
                "color": {"field": "cat", "type": "nominal", "scale": {"domain": ["black","red","orange","green","blue"], "range": ["#000000","#ee3333","#f0922e","#55dd22","#1a22cc"]}, "legend": null}
              }
            },
            {
              "data": {"name": "zlab"},
              "transform": [{"filter": "datum.lx > 0"}],
              "mark": {"type": "text", "angle": 270, "align": "left", "baseline": "middle", "dx": 8, "font": "Liberation Serif", "color": "black"},
              "encoding": {
                "x": {"field": "lx", "type": "quantitative", "scale": {"domain": [0.78, 1.0], "nice": false, "zero": false}, "axis": null},
                "y": {"datum": 0, "type": "quantitative", "scale": {"domain": [-1, 5], "nice": false, "zero": false}, "axis": null},
                "text": {"field": "label"},
                "size": {"condition": {"test": "datum.label === 'Texas-Dallas-Houston'", "value": 11}, "value": 17.5}
              }
            },
            {
              "data": {"name": "marr"},
              "mark": {"type": "rule", "strokeWidth": 2, "color": "#1a22cc"},
              "encoding": {
                "x": {"field": "x", "type": "quantitative", "scale": {"domain": [0.78, 1.0], "nice": false, "zero": false}, "axis": null},
                "y": {"field": "y", "type": "quantitative", "scale": {"domain": [-1, 5], "nice": false, "zero": false}, "axis": null},
                "y2": {"field": "y2"}
              }
            },
            {
              "data": {"name": "marr"},
              "mark": {"type": "point", "shape": "triangle-down", "filled": true, "size": 45, "color": "#1a22cc", "opacity": 1},
              "encoding": {
                "x": {"field": "x", "type": "quantitative", "scale": {"domain": [0.78, 1.0], "nice": false, "zero": false}, "axis": null},
                "y": {"field": "y2", "type": "quantitative", "scale": {"domain": [-1, 5], "nice": false, "zero": false}, "axis": null}
              }
            },
            {
              "data": {"name": "mtext"},
              "mark": {"type": "text", "align": "center", "baseline": "middle", "font": "Liberation Serif", "fontSize": 17.5, "color": "black"},
              "encoding": {
                "x": {"field": "x", "type": "quantitative", "scale": {"domain": [0.78, 1.0], "nice": false, "zero": false}, "axis": null},
                "y": {"field": "y", "type": "quantitative", "scale": {"domain": [-1, 5], "nice": false, "zero": false}, "axis": null},
                "text": {"field": "label"}
              }
            },
            {
              "data": {"name": "dbox"},
              "transform": [{"filter": "datum.panel === 'bot'"}],
              "mark": {"type": "rect", "filled": false, "color": "#cc44ee", "strokeWidth": 1.5, "strokeDash": [1.5, 3]},
              "encoding": {
                "x": {"field": "x", "type": "quantitative", "scale": {"domain": [0.78, 1.0], "nice": false, "zero": false}, "axis": null},
                "x2": {"field": "x2"},
                "y": {"field": "y", "type": "quantitative", "scale": {"domain": [-1, 5], "nice": false, "zero": false}, "axis": null},
                "y2": {"field": "y2"}
              }
            }
          ]
        }
      ]
    }
  ]
}
